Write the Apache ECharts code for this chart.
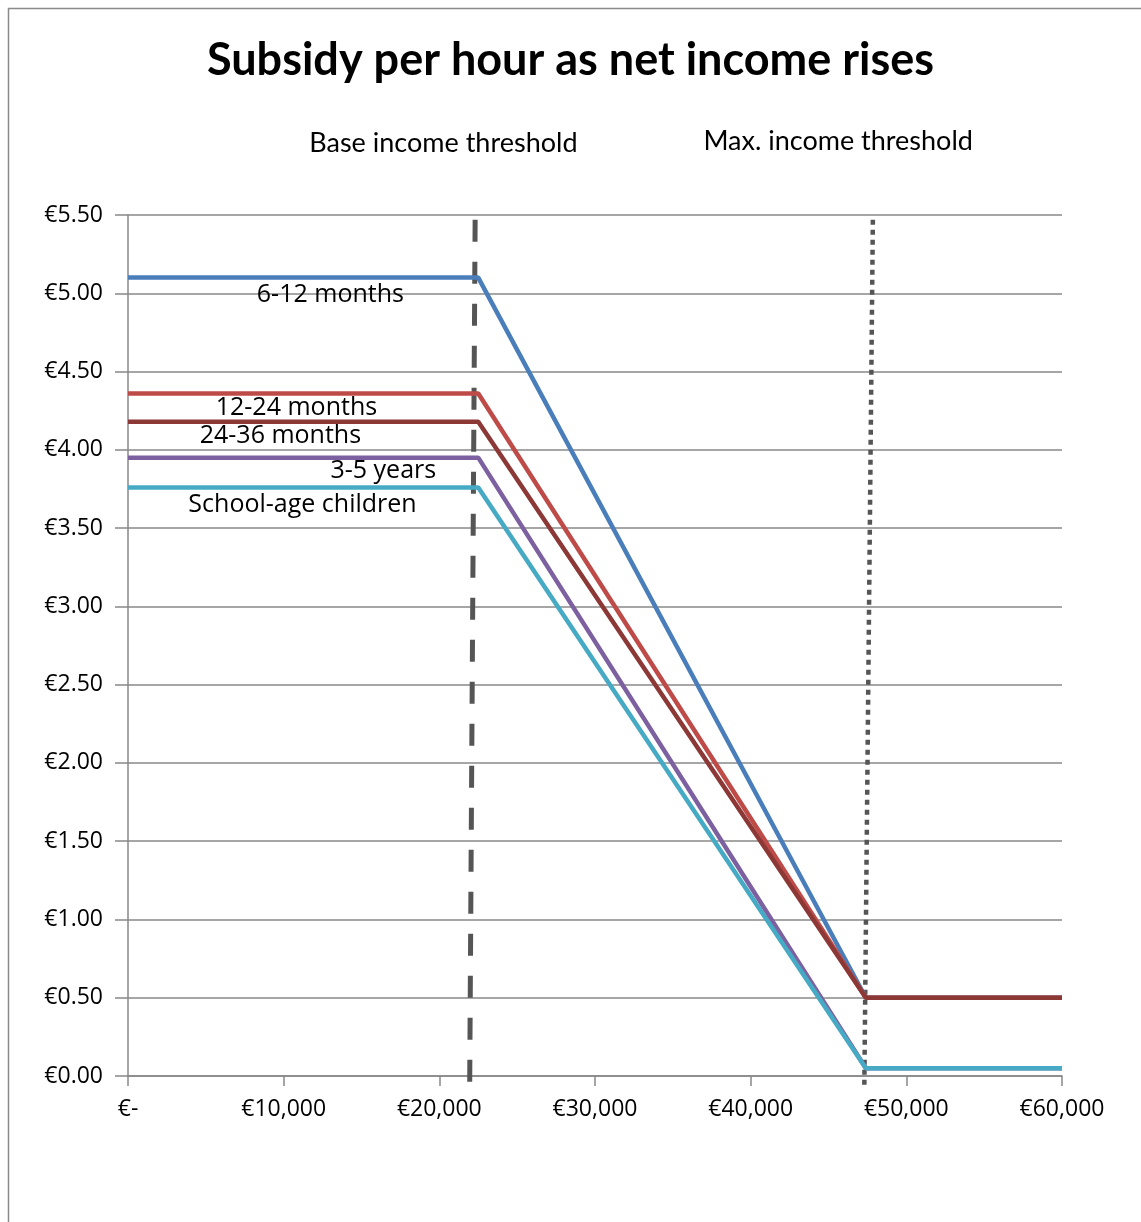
<!DOCTYPE html>
<html>
<head>
<meta charset="utf-8">
<script src="https://cdn.jsdelivr.net/npm/echarts@6/dist/echarts.min.js"></script>
<style>
html,body{margin:0;padding:0;background:#fff;}
#c{width:1141px;height:1222px;}
</style>
</head>
<body>
<div id="c"></div>
<script>
// ---- data ----
const incomeX = [0, 22500, 47400, 60000];
const months6to12 = [5.10, 5.10, 0.50, 0.50];
const months12to24 = [4.36, 4.36, 0.50, 0.50];
const months24to36 = [4.18, 4.18, 0.50, 0.50];
const years3to5 = [3.95, 3.95, 0.05, 0.05];
const schoolAge = [3.76, 3.76, 0.05, 0.05];
const seriesNames = ['6-12 months', '12-24 months', '24-36 months', '3-5 years', 'School-age children'];
const baseThresholdLine = [[22300, 5.47], [21950, -0.06]];
const maxThresholdLine = [[47850, 5.47], [47300, -0.08]];
const xTicks = [0, 10000, 20000, 30000, 40000, 50000, 60000];
const yTicks = [0, 0.5, 1, 1.5, 2, 2.5, 3, 3.5, 4, 4.5, 5, 5.5];
// annotation anchors (data units)
const lineLabels = [
  {text: '6-12 months', x: 13000, y: 4.99},
  {text: '12-24 months', x: 10820, y: 4.27},
  {text: '24-36 months', x: 9790, y: 4.09},
  {text: '3-5 years', x: 16400, y: 3.865},
  {text: 'School-age children', x: 11210, y: 3.65}
];
const thresholdLabels = [
  {text: 'Base income threshold', x: 20260, y: 5.96},
  {text: 'Max. income threshold', x: 45620, y: 5.97}
];

const colors = ['#4A7EBB', '#BE4B48', '#8C3836', '#7D60A0', '#46AAC5'];
const values = [months6to12, months12to24, months24to36, years3to5, schoolAge];
const FONT = '"Open Sans", "DejaVu Sans", sans-serif';

function pairs(ys) { return incomeX.map((x, i) => [x, ys[i]]); }

const chart = echarts.init(document.getElementById('c'), null, {renderer: 'canvas'});

const series = [];
series.push({
  type: 'line', name: 'base', data: baseThresholdLine, symbol: 'none', clip: false, z: 1,
  lineStyle: {color: '#555', width: 5, type: [22, 20]}
});
series.push({
  type: 'line', name: 'max', data: maxThresholdLine, symbol: 'none', clip: false, z: 1,
  lineStyle: {color: '#555', width: 4.5, type: [5, 5]}
});
values.forEach((v, i) => {
  series.push({
    type: 'line', name: seriesNames[i], data: pairs(v), symbol: 'none', z: 3,
    lineStyle: {color: colors[i], width: 4.5}
  });
});

chart.setOption({
  animation: false,
  backgroundColor: '#fff',
  title: {
    text: 'Subsidy per hour as net income rises',
    left: 'center', top: 33,
    textStyle: {fontFamily: 'Lato, sans-serif', fontWeight: 'bold', fontSize: 45, color: '#000'}
  },
  grid: {left: 128, right: 79, top: 215, bottom: 146},
  xAxis: {
    type: 'value', min: 0, max: 60000, interval: 10000,
    axisLine: {show: true, lineStyle: {color: '#888', width: 1.5}},
    axisTick: {show: true, length: 10, lineStyle: {color: '#888', width: 1.5}},
    splitLine: {show: false},
    axisLabel: {
      fontFamily: FONT, fontSize: 23, color: '#000', margin: 22,
      formatter: v => v === 0 ? '€-' : '€' + v.toLocaleString('en-US')
    }
  },
  yAxis: {
    type: 'value', min: 0, max: 5.5, interval: 0.5,
    axisLine: {show: true, lineStyle: {color: '#888', width: 1.5}},
    axisTick: {show: true, inside: false, length: 13, lineStyle: {color: '#888', width: 1.5}},
    splitLine: {show: true, lineStyle: {color: '#888', width: 1.5}},
    axisLabel: {
      fontFamily: FONT, fontSize: 23, color: '#000', margin: 25,
      formatter: v => '€' + v.toFixed(2)
    }
  },
  series: series
});

function addAnnotations() {
  const g = [];
  g.push({
    type: 'rect', shape: {x: 8.5, y: 8.5, width: 1200, height: 1300},
    style: {fill: 'none', stroke: '#8a8a8a', lineWidth: 1.5}, z: 0, silent: true
  });
  lineLabels.forEach(l => {
    const p = chart.convertToPixel({gridIndex: 0}, [l.x, l.y]);
    g.push({
      type: 'text', x: p[0], y: p[1], z: 10,
      style: {text: l.text, font: '25px ' + FONT, fill: '#000', textAlign: 'center', textVerticalAlign: 'middle'}
    });
  });
  thresholdLabels.forEach(l => {
    const p = chart.convertToPixel({gridIndex: 0}, [l.x, l.y]);
    g.push({
      type: 'text', x: p[0], y: p[1], z: 10,
      style: {text: l.text, font: '27px Lato, sans-serif', fill: '#000', textAlign: 'center', textVerticalAlign: 'middle'}
    });
  });
  chart.setOption({graphic: g});
}
addAnnotations();
</script>
</body>
</html>
